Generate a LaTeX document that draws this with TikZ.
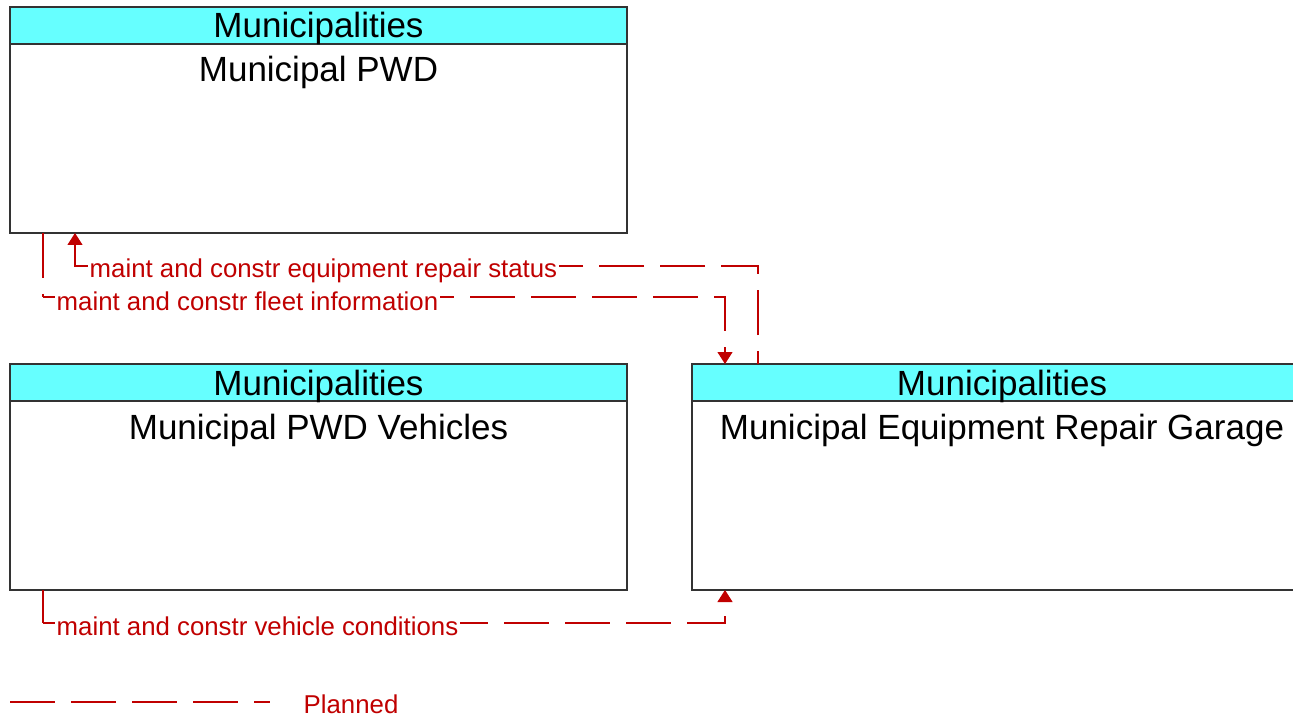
\documentclass[tikz,border=0pt]{standalone}
\usepackage{fontspec}
\setmainfont{Liberation Sans}
\usetikzlibrary{arrows.meta}
\definecolor{flowred}{RGB}{192,0,0}
\definecolor{hdrcyan}{RGB}{102,255,255}
\begin{document}
\begin{tikzpicture}[x=1pt,y=-1pt,
  entbox/.style={draw=black!80, line width=1.2pt, fill=white, minimum width=617pt, minimum height=226pt, anchor=north west, inner sep=0pt, outer sep=0pt},
  hdrbox/.style={draw=black!80, line width=1.2pt, fill=hdrcyan, minimum width=617pt, minimum height=37pt, anchor=north west, inner sep=0pt, outer sep=0pt},
  bigtxt/.style={font=\fontsize{35}{40}\selectfont, anchor=base, inner sep=0pt},
  flow/.style={draw=flowred, line width=1.2pt, dash pattern=on 45pt off 16pt},
  tip/.style={-{Triangle[length=12pt,width=15pt]}},
  lbl/.style={font=\fontsize{25.8}{30}\selectfont, text=flowred, fill=white, anchor=base west, inner sep=1.5pt}
]
\clip (0,0) rectangle (1293,719);
\fill[white] (0,0) rectangle (1293,719);

% entities
\node[entbox] (pwd) at (10,7) {};
\node[hdrbox] (pwdh) at (10,7) {};
\node[bigtxt] (pwdht) at (318.5,38) {Municipalities};
\node[bigtxt] (pwdn) at (318.5,82) {Municipal PWD};

\node[entbox] (veh) at (10,364) {};
\node[hdrbox] (vehh) at (10,364) {};
\node[bigtxt] (vehht) at (318.5,395) {Municipalities};
\node[bigtxt] (vehn) at (318.5,439) {Municipal PWD Vehicles};

\node[entbox, minimum width=620pt] (gar) at (692,364) {};
\node[hdrbox, minimum width=620pt] (garh) at (692,364) {};
\node[bigtxt] (garht) at (1002,395) {Municipalities};
\node[bigtxt] (garn) at (1002,439) {Municipal Equipment Repair Garage};

% connectors
\coordinate (r1) at (758,266);
\coordinate (r2) at (75,266);
\draw[flow,tip,dash phase=32pt] (r1 |- gar.north) -- (r1) -- (r2) -- (r2 |- pwd.south);
\node[lbl] (rl) at (88,278) {maint and constr equipment repair status};

\coordinate (f1) at (43,297);
\coordinate (f2) at (725,297);
\draw[flow] (f1 |- pwd.south) -- (f1);
\draw[flow,tip,dash phase=0pt] (f1) -- (f2) -- (f2 |- gar.north);
\node[lbl] (fl) at (55,310) {maint and constr fleet information};

\coordinate (v1) at (43,623);
\coordinate (v2) at (725,623);
\draw[flow] (v1 |- veh.south) -- (v1);
\draw[flow,tip,dash phase=27pt] (v1) -- (v2) -- (v2 |- gar.south);
\node[lbl] (vl) at (55,635) {maint and constr vehicle conditions};

% legend
\coordinate (l1) at (10,702);
\coordinate (l2) at (270,702);
\draw[flow] (l1) -- (l2);
\node[lbl] (pl) at (302,713) {Planned};
\end{tikzpicture}
\end{document}
